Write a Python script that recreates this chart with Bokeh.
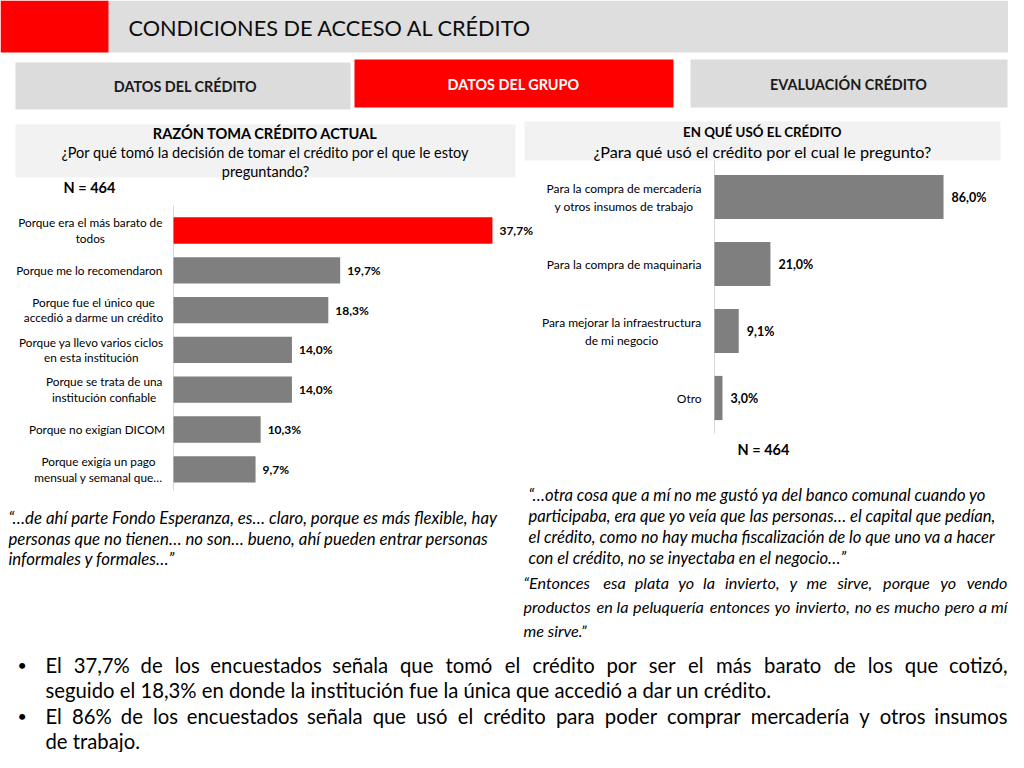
from bokeh.plotting import figure
from bokeh.models import Range1d, ColumnDataSource
from bokeh.core.properties import value
from bokeh.embed import file_html
from bokeh.resources import INLINE

# ---------------- data ----------------
reason_labels = [
    "Porque era el más barato de\ntodos",
    "Porque me lo recomendaron",
    "Porque fue el único que\naccedió a darme un crédito",
    "Porque ya llevo varios ciclos\nen esta institución",
    "Porque se trata de una\ninstitución confiable",
    "Porque no exigían DICOM",
    "Porque exigía un pago\nmensual y semanal que…",
]
reason_values = [37.7, 19.7, 18.3, 14.0, 14.0, 10.3, 9.7]

use_labels = [
    "Para la compra de mercadería\ny otros insumos de trabajo",
    "Para la compra de maquinaria",
    "Para mejorar la infraestructura\nde mi negocio",
    "Otro",
]
use_values = [86.0, 21.0, 9.1, 3.0]

sample_n = 464

header_title = "CONDICIONES DE ACCESO AL CRÉDITO"
tab_labels = ["DATOS DEL CRÉDITO", "DATOS DEL GRUPO", "EVALUACIÓN CRÉDITO"]
left_title = "RAZÓN TOMA CRÉDITO ACTUAL"
left_question = ["¿Por qué tomó la decisión de tomar el crédito por el que le estoy", "preguntando?"]
right_title = "EN QUÉ USÓ EL CRÉDITO"
right_question = "¿Para qué usó el crédito por el cual le pregunto?"

quote_left = [
    "“…de ahí parte Fondo Esperanza, es… claro, porque es más flexible, hay",
    "personas que no tienen… no son… bueno, ahí pueden entrar personas",
    "informales y formales…”",
]
quote_right1 = [
    "“…otra cosa que a mí no me gustó ya del banco comunal cuando yo",
    "participaba, era que yo veía que las personas… el capital que pedían,",
    "el crédito, como no hay mucha fiscalización de lo que uno va a hacer",
    "con el crédito, no se inyectaba en el negocio…”",
]
quote_right2 = [
    "“Entonces esa plata yo la invierto, y me sirve, porque yo vendo",
    "productos en la peluquería entonces yo invierto, no es mucho pero a mí",
    "me sirve.”",
]
bullets = [
    ["El 37,7% de los encuestados señala que tomó el crédito por ser el más barato de los que cotizó,",
     "seguido el 18,3%  en donde la institución fue la única que accedió a dar un crédito."],
    ["El 86% de los encuestados señala que usó el crédito para poder comprar mercadería y otros insumos",
     "de trabajo."],
]

# ---------------- layout ----------------
FONT = "Lato"
RED = "#ff0000"
BAR_GRAY = "#7f7f7f"
W, H = 1008, 752

p = figure(width=W, height=H, x_range=Range1d(0, W), y_range=Range1d(H, 0),
           output_backend="svg", toolbar_location=None, min_border=0,
           x_axis_location=None, y_axis_location=None, outline_line_color=None,
           background_fill_color="white", border_fill_color="white")
p.grid.visible = False


def lin_range(origin_px, px_per_unit, lo, hi):
    return Range1d((lo - origin_px) / px_per_unit, (hi - origin_px) / px_per_unit)


p.extra_x_ranges = {"lx": lin_range(173, 8.46, 0, W), "rx": lin_range(714, 2.663, 0, W)}
p.extra_y_ranges = {"ly": lin_range(230, 39.8, H, 0), "ry": lin_range(196.5, 67.0, H, 0)}


def box(l, r, t, b, color):
    p.quad(left=[l], right=[r], top=[t], bottom=[b], fill_color=color, line_color=None)


def txt(x, y, s, size, style="normal", color="#000000", align="left", baseline="middle"):
    p.text(x=[x], y=[y], text=[s], text_font=value(FONT), text_font_size=f"{size}px",
           text_font_style=style, text_color=color, text_align=align, text_baseline=baseline)


# approximate relative advance widths (em), used only for text layout (justify / centring)
_CW = dict(zip("abcdefghijklmnopqrstuvwxyz",
               [.48, .52, .42, .52, .50, .31, .47, .52, .23, .24, .46, .23, .80, .52, .53, .52, .52,
                .35, .39, .34, .52, .45, .72, .43, .45, .40]))
_CW.update({"á": .48, "é": .50, "í": .23, "ó": .53, "ú": .52, "ñ": .52, ",": .25, ".": .25,
            "%": .72, "“": .40, "”": .40, "…": .75, " ": .23})


def est_width(word, size):
    w = 0.0
    for ch in word:
        if ch in _CW:
            w += _CW[ch]
        elif ch.isdigit():
            w += .51
        elif ch.isupper():
            w += .58
        else:
            w += .5
    return w * size * 1.04


def justified(line, x_start, x_end, y, size, style="normal"):
    """Spread the words of a line between x_start and x_end (text justification)."""
    words = line.split()
    widths = [est_width(w, size) for w in words]
    gap = (x_end - x_start - sum(widths)) / max(len(words) - 1, 1)
    xs, aligns = [], []
    left = x_start
    for k, w in enumerate(words):
        if k == 0:
            xs.append(x_start); aligns.append("left")
        elif k == len(words) - 1:
            xs.append(x_end); aligns.append("right")
        else:
            xs.append(left + widths[k] / 2); aligns.append("center")
        left += widths[k] + gap
    p.text(x=xs, y=[y] * len(words), text=words, text_align=aligns, text_font=value(FONT),
           text_font_size=f"{size}px", text_font_style=style, text_color="#000000",
           text_baseline="middle")


def centred_offsets(labels, size, pad):
    """Pixel offsets that put each centred label block 'pad' px left of the axis."""
    return [-(pad + max(est_width(ln, size) for ln in lab.split("\n")) / 2) for lab in labels]


# header
box(108, 1024, 0, 52, "#dedede")
box(0, 108, 0, 52, RED)
txt(128, 27, header_title, 21.7, color="#0d0d0d")

# tabs
box(15, 350, 62, 109, "#dcdcdc")
box(354, 673, 59, 107, RED)
box(690, 1007, 59, 107, "#dcdcdc")
txt(185, 86, tab_labels[0], 14.4, "bold", "#1a1a1a", "center")
txt(513, 84, tab_labels[1], 14.4, "bold", "#ffffff", "center")
txt(848, 84, tab_labels[2], 14.4, "bold", "#1a1a1a", "center")

# section title boxes
box(15, 515, 124, 177, "#f2f2f2")
txt(265, 133, left_title, 14.6, "bold", "#000000", "center")
txt(265, 152, left_question[0], 14.5, "normal", "#000000", "center")
txt(265, 171, left_question[1], 14.5, "normal", "#000000", "center")
txt(63, 187, f"N = {sample_n}", 14.5, "bold")

box(524, 1000, 121, 160, "#f2f2f2")
txt(762, 131, right_title, 13.3, "bold", "#000000", "center")
txt(762, 151, right_question, 16.2, "normal", "#000000", "center")
txt(737, 449, f"N = {sample_n}", 14.5, "bold")

# ---------------- left bar chart ----------------
n_l = len(reason_values)
src_l = ColumnDataSource(dict(
    idx=list(range(n_l)),
    value=reason_values,
    label=reason_labels,
    vlabel=[f"{v:.1f}".replace(".", ",") + "%" for v in reason_values],
    color=[RED if i == 0 else BAR_GRAY for i in range(n_l)],
    zero=[0] * n_l,
    loff=centred_offsets(reason_labels, 11.8, 12),
))
p.segment(x0=[0], y0=[-0.63], x1=[0], y1=[n_l - 1 + 0.53], line_color="#d9d9d9", line_width=1,
          x_range_name="lx", y_range_name="ly")
p.hbar(y="idx", left=0, right="value", height=0.66, fill_color="color", line_color=None,
       source=src_l, x_range_name="lx", y_range_name="ly")
p.text(x="value", y="idx", text="vlabel", source=src_l, x_offset=7, text_font=value(FONT),
       text_font_size="12px", text_font_style="bold", text_baseline="middle", text_align="left",
       text_color="#000000", x_range_name="lx", y_range_name="ly")
p.text(x="zero", y="idx", text="label", source=src_l, x_offset="loff", text_font=value(FONT),
       text_font_size="11.8px", text_baseline="middle", text_align="center", text_color="#000000",
       text_line_height=1.05, x_range_name="lx", y_range_name="ly")

# ---------------- right bar chart ----------------
n_r = len(use_values)
src_r = ColumnDataSource(dict(
    idx=list(range(n_r)),
    value=use_values,
    label=use_labels,
    vlabel=[f"{v:.1f}".replace(".", ",") + "%" for v in use_values],
    zero=[0] * n_r,
    loff=centred_offsets(use_labels, 12, 14),
))
p.segment(x0=[0], y0=[-0.545], x1=[0], y1=[n_r - 1 + 0.53], line_color="#d9d9d9", line_width=1,
          x_range_name="rx", y_range_name="ry")
p.hbar(y="idx", left=0, right="value", height=0.66, fill_color=BAR_GRAY, line_color=None,
       source=src_r, x_range_name="rx", y_range_name="ry")
p.text(x="value", y="idx", text="vlabel", source=src_r, x_offset=8, text_font=value(FONT),
       text_font_size="12.5px", text_font_style="bold", text_baseline="middle", text_align="left",
       text_color="#000000", x_range_name="rx", y_range_name="ry")
p.text(x="zero", y="idx", text="label", source=src_r, x_offset="loff", text_font=value(FONT),
       text_font_size="12px", text_baseline="middle", text_align="center", text_color="#000000",
       text_line_height=1.2, x_range_name="rx", y_range_name="ry")

# ---------------- quotes ----------------
for i, line in enumerate(quote_left):
    txt(8, 517 + i * 20.5, line, 16.8, "italic")
for i, line in enumerate(quote_right1):
    txt(528, 494 + i * 21, line, 16.6, "italic")
for i, line in enumerate(quote_right2):
    if i < len(quote_right2) - 1:
        justified(line, 523, 1007, 582 + i * 24, 16.2, "italic")
    else:
        txt(523, 582 + i * 24, line, 16.2, "italic")

# ---------------- bullets ----------------
by = 664
for para in bullets:
    txt(17, by, "•", 16)
    for j, line in enumerate(para):
        if j < len(para) - 1:
            justified(line, 45, 1007, by, 20.3)
        else:
            txt(45, by, line, 20.3)
        by += 25.5

open("out.html", "w").write(file_html(p, INLINE))
